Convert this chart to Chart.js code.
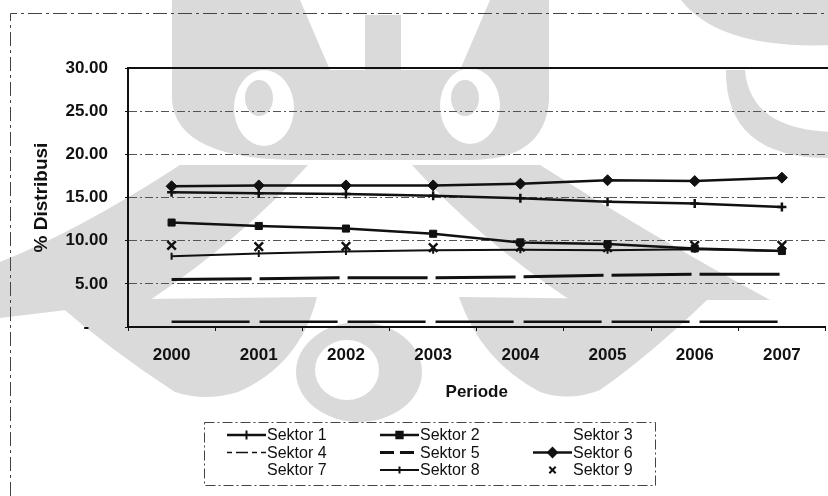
<!DOCTYPE html>
<html>
<head>
<meta charset="utf-8">
<script src="https://cdn.jsdelivr.net/npm/chart.js@4/dist/chart.umd.min.js"></script>
<style>
  html, body { margin: 0; padding: 0; background: #fff; overflow: hidden; }
  #wrap { width: 834px; height: 496px; }
</style>
</head>
<body>
<div id="wrap"><canvas id="c" width="834" height="496"></canvas></div>
<script>
// Periode (tahun)
const years = ['2000', '2001', '2002', '2003', '2004', '2005', '2006', '2007'];

// % distribusi per sektor
const sektor1 = [15.6, 15.5, 15.4, 15.2, 14.9, 14.5, 14.3, 13.9];
const sektor2 = [12.1, 11.7, 11.4, 10.8, 9.8, 9.6, 9.1, 8.8];
const sektor3 = [null, null, null, null, null, null, null, null];
const sektor4 = [0.6, 0.6, 0.6, 0.6, 0.6, 0.6, 0.6, 0.6];
const sektor5 = [5.5, 5.6, 5.7, 5.7, 5.8, 6.0, 6.1, 6.1];
const sektor6 = [16.3, 16.4, 16.4, 16.4, 16.6, 17.0, 16.9, 17.3];
const sektor7 = [null, null, null, null, null, null, null, null];
const sektor8 = [8.2, 8.5, 8.75, 8.9, 8.95, 8.9, 9.0, 8.8];
const sektor9 = [9.45, 9.3, 9.35, 9.2, 9.25, 9.2, 9.45, 9.45];

// Sumbu Y
const yMin = 0, yMax = 30, yStep = 5;

const FONT = '"Liberation Sans", Arial, Helvetica, sans-serif';
const INK = '#111';
const SHADE = '#dadada';

const series = [
  { label: 'Sektor 1', data: sektor1, borderWidth: 2.5, pointStyle: 'cross', pointRadius: 4.5, pointBorderWidth: 2.5 },
  { label: 'Sektor 2', data: sektor2, borderWidth: 2.5, pointStyle: 'rect', pointRadius: 5, pointBorderWidth: 1 },
  { label: 'Sektor 3', data: sektor3, showLine: false, pointRadius: 0 },
  { label: 'Sektor 4', data: sektor4, borderWidth: 2.5, borderDash: [78, 10], pointRadius: 0, legendDash: [5, 4, 12, 4], legendWidth: 1.5 },
  { label: 'Sektor 5', data: sektor5, borderWidth: 3, borderDash: [80, 8], pointRadius: 0, legendDash: [14, 6], legendWidth: 3 },
  { label: 'Sektor 6', data: sektor6, borderWidth: 2.5, pointStyle: 'rectRot', pointRadius: 5.5, pointBorderWidth: 1 },
  { label: 'Sektor 7', data: sektor7, showLine: false, pointRadius: 0 },
  { label: 'Sektor 8', data: sektor8, borderWidth: 2, pointStyle: 'line', rotation: 90, pointRadius: 3.5, pointBorderWidth: 2 },
  { label: 'Sektor 9', data: sektor9, showLine: false, pointStyle: 'crossRot', pointRadius: 6, pointBorderWidth: 2.5, legendRadius: 4.5 }
].map(s => Object.assign({
  borderColor: INK,
  backgroundColor: INK,
  pointBackgroundColor: INK,
  pointBorderColor: INK,
  tension: 0,
  fill: false,
  spanGaps: false
}, s));

// Lambang watermark abu-abu di latar belakang
function drawEmblem(ctx) {
  ctx.save();
  ctx.fillStyle = SHADE;
  // kepala
  ctx.beginPath();
  ctx.moveTo(172, 0);
  ctx.lineTo(549, 0);
  ctx.lineTo(549, 100);
  ctx.quadraticCurveTo(545, 160, 470, 160);
  ctx.lineTo(300, 160);
  ctx.quadraticCurveTo(176, 160, 172, 100);
  ctx.closePath();
  ctx.fill();
  // pojok kanan atas
  ctx.beginPath();
  ctx.moveTo(681, 0);
  ctx.lineTo(834, 0);
  ctx.lineTo(834, 45);
  ctx.quadraticCurveTo(720, 50, 681, 0);
  ctx.closePath();
  ctx.fill();
  ctx.beginPath();
  ctx.moveTo(726, 70);
  ctx.quadraticCurveTo(725, 160, 834, 158);
  ctx.lineTo(834, 132);
  ctx.quadraticCurveTo(750, 130, 745, 70);
  ctx.closePath();
  ctx.fill();
  // lengan kiri dan kanan
  ctx.beginPath();
  ctx.moveTo(412, 165);
  ctx.lineTo(540, 165);
  ctx.quadraticCurveTo(650, 235, 770, 300);
  ctx.lineTo(570, 300);
  ctx.quadraticCurveTo(480, 240, 412, 165);
  ctx.closePath();
  ctx.fill();
  ctx.beginPath();
  ctx.moveTo(308, 165);
  ctx.lineTo(180, 165);
  ctx.quadraticCurveTo(80, 230, 0, 262);
  ctx.lineTo(0, 318);
  ctx.lineTo(150, 300);
  ctx.quadraticCurveTo(240, 240, 308, 165);
  ctx.closePath();
  ctx.fill();
  // sayap bawah
  ctx.beginPath();
  ctx.moveTo(53, 300);
  ctx.lineTo(317, 297);
  ctx.quadraticCurveTo(300, 365, 238, 392);
  ctx.quadraticCurveTo(205, 402, 175, 392);
  ctx.quadraticCurveTo(110, 350, 53, 300);
  ctx.closePath();
  ctx.fill();
  ctx.beginPath();
  ctx.moveTo(459, 297);
  ctx.lineTo(707, 300);
  ctx.quadraticCurveTo(650, 355, 600, 390);
  ctx.quadraticCurveTo(570, 402, 540, 392);
  ctx.quadraticCurveTo(480, 360, 459, 297);
  ctx.closePath();
  ctx.fill();
  // tetesan tengah bawah
  ctx.beginPath();
  ctx.ellipse(359, 372, 63, 50, 0, 0, Math.PI * 2);
  ctx.fill();
  ctx.fillStyle = '#fff';
  ctx.beginPath();
  ctx.ellipse(347, 370, 32, 30, 0, 0, Math.PI * 2);
  ctx.fill();
  // mata kiri dan kanan, celah tengah kepala
  ctx.beginPath();
  ctx.ellipse(264, 108, 30, 38, 0, 0, Math.PI * 2);
  ctx.ellipse(470, 106, 30, 38, 0, 0, Math.PI * 2);
  ctx.fill();
  ctx.beginPath();
  ctx.moveTo(300, 0);
  ctx.lineTo(490, 0);
  ctx.lineTo(460, 70);
  ctx.lineTo(330, 70);
  ctx.closePath();
  ctx.fill();
  ctx.fillStyle = SHADE;
  ctx.beginPath();
  ctx.ellipse(259, 98, 14, 18, 0, 0, Math.PI * 2);
  ctx.ellipse(465, 98, 14, 18, 0, 0, Math.PI * 2);
  ctx.fill();
  ctx.fillRect(365, 15, 36, 55);
  ctx.restore();
}

// Bingkai luar bergaris putus-putus dan garis atas area plot
const framePlugin = {
  id: 'frame',
  beforeDraw(chart) {
    const ctx = chart.ctx;
    ctx.save();
    ctx.fillStyle = '#fff';
    ctx.fillRect(0, 0, chart.width, chart.height);
    drawEmblem(ctx);
    ctx.strokeStyle = '#444';
    ctx.lineWidth = 1;
    ctx.setLineDash([14, 4, 3, 4]);
    ctx.beginPath();
    ctx.moveTo(10.5, chart.height);
    ctx.lineTo(10.5, 13.5);
    ctx.lineTo(chart.width, 13.5);
    ctx.stroke();
    ctx.restore();
  },
  beforeDatasetsDraw(chart) {
    const { ctx, chartArea } = chart;
    ctx.save();
    ctx.strokeStyle = INK;
    ctx.lineWidth = 2;
    ctx.beginPath();
    ctx.moveTo(chartArea.left - 1, chartArea.top);
    ctx.lineTo(chartArea.right + 4, chartArea.top);
    ctx.stroke();
    ctx.restore();
  }
};

// Legenda tiga kolom di dalam kotak bergaris putus-putus
const legendPlugin = {
  id: 'gridLegend',
  afterDraw(chart) {
    const ctx = chart.ctx;
    const box = { x: 204.5, y: 422.5, w: 451, h: 63 };
    const colX = [267, 420, 573];
    const rowY = [435, 452.5, 470];
    ctx.save();
    ctx.fillStyle = '#fff';
    ctx.fillRect(box.x, box.y, box.w, box.h);
    ctx.strokeStyle = '#444';
    ctx.lineWidth = 1;
    ctx.setLineDash([10, 3, 2, 3]);
    ctx.strokeRect(box.x, box.y, box.w, box.h);
    ctx.setLineDash([]);
    ctx.font = '16px ' + FONT;
    ctx.textBaseline = 'middle';
    chart.data.datasets.forEach((ds, i) => {
      const tx = colX[i % 3];
      const ty = rowY[Math.floor(i / 3)];
      const x0 = tx - 40, x1 = tx - 1;
      if (ds.showLine !== false) {
        ctx.save();
        ctx.strokeStyle = ds.borderColor;
        ctx.lineWidth = ds.legendWidth || ds.borderWidth;
        ctx.setLineDash(ds.legendDash || []);
        ctx.beginPath();
        ctx.moveTo(x0, ty);
        ctx.lineTo(x1, ty);
        ctx.stroke();
        ctx.restore();
      }
      if (ds.pointRadius > 0) {
        ctx.save();
        ctx.strokeStyle = ds.pointBorderColor;
        ctx.fillStyle = ds.pointBackgroundColor;
        ctx.lineWidth = 2;
        Chart.helpers.drawPoint(ctx, {
          pointStyle: ds.pointStyle,
          rotation: ds.rotation || 0,
          radius: ds.legendRadius || Math.min(ds.pointRadius, 4.5),
          borderWidth: 2
        }, (x0 + x1) / 2, ty);
        ctx.restore();
      }
      ctx.fillStyle = INK;
      ctx.textAlign = 'left';
      ctx.fillText(ds.label, tx, ty + 1);
    });
    ctx.restore();
  }
};

new Chart(document.getElementById('c'), {
  type: 'line',
  data: { labels: years, datasets: series },
  plugins: [framePlugin, legendPlugin],
  options: {
    responsive: false,
    animation: false,
    events: [],
    layout: { padding: { left: 0, top: 68, right: 4, bottom: 0 } },
    plugins: {
      legend: { display: false },
      tooltip: { enabled: false },
      title: { display: false }
    },
    scales: {
      x: {
        type: 'category',
        offset: true,
        grid: {
          display: true,
          drawOnChartArea: false,
          drawTicks: true,
          tickLength: 4,
          tickColor: INK,
          offset: true
        },
        border: { display: true, color: INK, width: 2 },
        ticks: {
          color: INK,
          font: { family: FONT, size: 17, weight: 'bold' },
          padding: 14,
          maxRotation: 0,
          autoSkip: false
        },
        title: {
          display: true,
          text: 'Periode',
          color: INK,
          font: { family: FONT, size: 17, weight: 'bold' },
          padding: { top: 0, bottom: 93 }
        },
        afterFit(scale) { scale.height = 169; }
      },
      y: {
        min: yMin,
        max: yMax,
        grid: {
          drawTicks: true,
          tickLength: 3,
          tickColor: INK,
          lineWidth: 1,
          color: (c) => (c.tick && (c.tick.value === yMin || c.tick.value === yMax)) ? 'rgba(0,0,0,0)' : '#555'
        },
        border: { display: true, color: INK, width: 2, dash: [8, 3, 2, 3] },
        ticks: {
          stepSize: yStep,
          color: INK,
          padding: 17,
          font: { family: FONT, size: 17, weight: 'bold' },
          callback: (v) => v === 0 ? '-\u2007\u2007' : Number(v).toFixed(2)
        },
        title: {
          display: true,
          text: '% Distribusi',
          color: INK,
          font: { family: FONT, size: 19, weight: 'bold' },
          padding: { top: 30, bottom: 0 }
        },
        afterFit(scale) { scale.width = 128; }
      }
    }
  }
});
</script>
</body>
</html>
